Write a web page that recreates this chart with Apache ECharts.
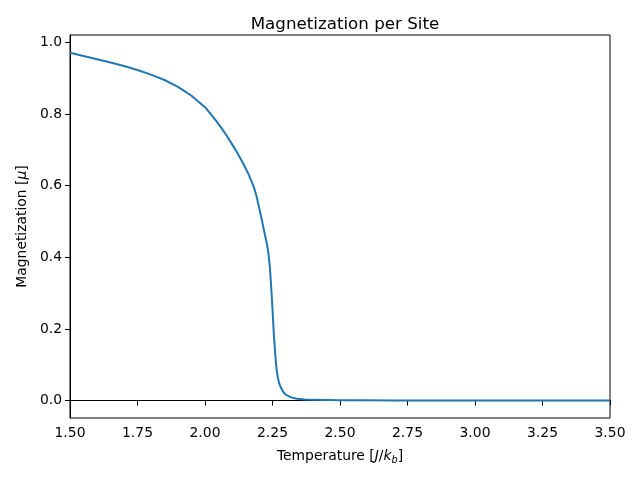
<!DOCTYPE html>
<html lang="en">
<head>
    <meta charset="UTF-8">
    <title>Magnetization per Site</title>
    <script src="https://cdn.jsdelivr.net/npm/echarts@6/dist/echarts.min.js"></script>
    <style>
        body { margin: 0; background: #fff; }
    </style>
</head>
<body>
    <div id="chart" style="width: 640px; height: 480px;"></div>
    <script type="text/javascript">
        const temperature = [
            1.50, 1.55, 1.60, 1.65, 1.70, 1.75, 1.80, 1.85, 1.90, 1.95,
            2.00, 2.02, 2.04, 2.06, 2.08, 2.10, 2.12, 2.14, 2.16, 2.18,
            2.19, 2.20, 2.21, 2.22, 2.23, 2.235, 2.24, 2.245, 2.25, 2.255,
            2.26, 2.265, 2.27, 2.275, 2.28, 2.29, 2.30, 2.32, 2.34, 2.37,
            2.40, 2.45, 2.50, 2.60, 2.70, 2.80, 2.90, 3.00, 3.10, 3.20,
            3.30, 3.40, 3.50
        ];
        const magnetization = [
            0.971, 0.962, 0.953, 0.944, 0.934, 0.923, 0.910, 0.895, 0.876, 0.851,
            0.819, 0.801, 0.782, 0.762, 0.740, 0.716, 0.691, 0.664, 0.634, 0.598,
            0.573, 0.540, 0.506, 0.470, 0.435, 0.410, 0.375, 0.320, 0.255, 0.185,
            0.130, 0.088, 0.063, 0.048, 0.038, 0.024, 0.016, 0.009, 0.005, 0.003,
            0.002, 0.0015, 0.001, 0.0008, 0.0006, 0.0005, 0.0005, 0.0004, 0.0004, 0.0003,
            0.0003, 0.0003, 0.0003
        ];
        const xTicks = [1.5, 1.75, 2.0, 2.25, 2.5, 2.75, 3.0, 3.25, 3.5];
        const yTicks = [0, 0.2, 0.4, 0.6, 0.8, 1.0];

        const font = 'DejaVu Sans';
        const chart = echarts.init(document.getElementById('chart'), null, { renderer: 'canvas' });

        chart.setOption({
            animation: false,
            title: {
                text: 'Magnetization per Site',
                left: 340, top: 11, textAlign: 'center',
                textStyle: { fontFamily: font, fontSize: 16.7, fontWeight: 'normal', color: '#000' }
            },
            grid: {
                left: 70, right: 30, top: 35, bottom: 62,
                show: true, borderColor: '#000', borderWidth: 1
            },
            xAxis: {
                type: 'value', min: 1.5, max: 3.5,
                axisLine: { lineStyle: { color: '#000', width: 1 } },
                axisTick: { show: true, length: 5, customValues: xTicks, lineStyle: { color: '#000' } },
                axisLabel: {
                    customValues: xTicks, margin: 8, color: '#000',
                    fontFamily: font, fontSize: 13.9,
                    formatter: v => v.toFixed(2)
                },
                splitLine: { show: false },
                name: 'Temperature [{i|J}/{i|k}{s|b}]',
                nameLocation: 'middle', nameGap: 29,
                nameTextStyle: {
                    fontFamily: font, fontSize: 13.9, color: '#000',
                    rich: {
                        i: { fontFamily: font, fontSize: 13.9, fontStyle: 'italic', color: '#000' },
                        s: { fontFamily: font, fontSize: 9.7, fontStyle: 'italic', color: '#000', verticalAlign: 'bottom', padding: [8, 0, 0, 0] }
                    }
                }
            },
            yAxis: {
                type: 'value', min: -0.0486, max: 1.0206,
                axisLine: { show: true, lineStyle: { color: '#000', width: 1 } },
                axisTick: { show: true, length: 5, customValues: yTicks, lineStyle: { color: '#000' } },
                axisLabel: {
                    customValues: yTicks, margin: 8, color: '#000',
                    fontFamily: font, fontSize: 13.9,
                    formatter: v => v.toFixed(1)
                },
                splitLine: { show: false },
                name: 'Magnetization [{i|μ}]',
                nameLocation: 'middle', nameGap: 41,
                nameTextStyle: {
                    fontFamily: font, fontSize: 13.9, color: '#000',
                    rich: {
                        i: { fontFamily: font, fontSize: 13.9, fontStyle: 'italic', color: '#000' }
                    }
                }
            },
            series: [{
                type: 'line',
                data: temperature.map((t, i) => [t, magnetization[i]]),
                showSymbol: false,
                lineStyle: { color: '#1f77b4', width: 2 },
                itemStyle: { color: '#1f77b4' }
            }]
        });
    </script>
</body>
</html>
